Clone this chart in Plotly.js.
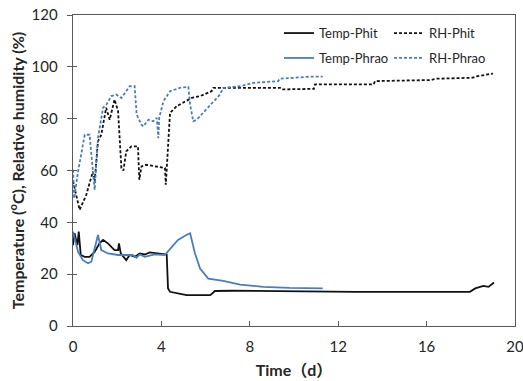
<!DOCTYPE html>
<html>
<head>
<meta charset="utf-8">
<script src="https://cdn.plot.ly/plotly-3.0.1.min.js"></script>
<style>html,body{margin:0;padding:0;background:#fff;}#chart{width:523px;height:381px;}</style>
</head>
<body>
<div id="chart"></div>
<script>
// Temp-Phit (black solid)
const tempPhitDay = [0,0.07,0.2,0.26,0.35,0.53,0.75,0.83,0.98,1.2,1.36,1.58,1.88,2.04,2.08,2.16,2.41,2.56,2.8,3.02,3.25,3.47,4.15,4.24,4.3,4.39,5.14,6.2,6.27,6.42,7.25,8.3,9.8,12.8,17.96,18.2,18.57,18.8,19.05];
const tempPhitVal = [31.2,35.8,31.2,36.4,27.4,26.7,26.7,27.4,28.6,31.9,33.2,31.9,29.3,29.3,31.9,28,25.4,27.4,26.7,28,27.6,28.4,27.6,27.6,14.5,13.2,11.9,11.9,12.3,13.5,13.6,13.5,13.4,13.2,13.2,14.5,15.5,15.1,16.8];

// Temp-Phrao (blue solid)
const tempPhraoDay = [0,0.07,0.23,0.45,0.68,0.83,0.98,1.13,1.28,1.58,2.04,2.7,2.87,3.02,3.25,3.7,4.15,4.75,5.13,5.3,5.52,5.75,6.12,6.8,7.56,8.6,9.8,11.3];
const tempPhraoVal = [36.4,33.8,28.6,25.4,24.2,24.8,30,35.1,29.3,28,27.4,27.4,26.3,27.6,26.7,27.6,27.4,33.2,35.1,35.8,28,22.2,18.3,17.4,16,15.1,14.7,14.5];

// RH-Phit (black dashed)
const rhPhitDay = [0,0.15,0.3,0.6,0.9,0.98,1.13,1.28,1.5,1.66,1.88,2.04,2.19,2.28,2.41,2.64,2.94,3.0,3.1,3.3,4.16,4.2,4.25,4.39,4.69,5.07,5.37,5.75,6.27,6.35,9.37,9.45,10.9,10.95,13.6,13.67,16.2,16.4,18.1,18.3,19.0];
const rhPhitVal = [56,50,44.8,50.6,59.6,55.8,71.2,73.8,84.2,79.6,87.4,82.9,60.9,60,67.4,69.3,69.3,56.4,61.6,62.2,61,54.5,62,82.2,84.8,86.7,88,88.7,90.6,91.9,91.9,91.3,91.5,93.2,93.2,94.5,94.9,95.4,95.8,96.4,97.4];

// RH-Phrao (blue dashed)
const rhPhraoDay = [0,0.05,0.23,0.53,0.75,0.83,0.98,1.13,1.36,1.51,1.73,1.96,2.19,2.56,2.79,2.88,3.1,3.18,3.41,3.63,3.79,3.86,3.9,4.09,4.39,4.84,5.22,5.3,5.44,5.6,6.35,6.65,6.8,7.56,8.16,9.29,9.35,10.7,11.3];
const rhPhraoVal = [60.3,49.3,59.6,73.8,73.8,66,52.5,72.5,84.2,85.4,88.7,89.3,88,92.5,92.5,81.6,77.7,77,79.6,79,80.3,72.5,80.3,86.7,90.6,91.9,92.3,85.4,79,79.6,86.5,89.3,91.9,92.5,93.8,94.5,95.4,96.2,96.2];

const blue = '#4a7ebb';
const black = '#111111';
const dash = '3px,2px';

const traces = [
  {x: tempPhitDay, y: tempPhitVal, name: 'Temp-Phit', mode: 'lines', line: {color: black, width: 1.8}, legend: 'legend', legendgroup: 'a'},
  {x: tempPhraoDay, y: tempPhraoVal, name: 'Temp-Phrao', mode: 'lines', line: {color: blue, width: 1.8}, legend: 'legend', legendgroup: 'b'},
  {x: rhPhitDay, y: rhPhitVal, name: 'RH-Phit', mode: 'lines', line: {color: black, width: 1.8, dash: dash}, legend: 'legend2', legendgroup: 'c'},
  {x: rhPhraoDay, y: rhPhraoVal, name: 'RH-Phrao', mode: 'lines', line: {color: blue, width: 1.8, dash: dash}, legend: 'legend2', legendgroup: 'd'}
];

const axisColor = '#5a5a5a';
const tickFont = {family: 'Lato, sans-serif', size: 15, color: '#262626'};
const legFont = {family: 'Lato, sans-serif', size: 13, color: '#262626'};
const titleFont = {family: 'Lato, "Noto Sans CJK SC", sans-serif', size: 16, color: '#262626'};

const layout = {
  width: 523, height: 381,
  margin: {l: 73, r: 8, t: 15, b: 55},
  paper_bgcolor: '#ffffff', plot_bgcolor: '#ffffff',
  showlegend: true,
  xaxis: {
    range: [0, 20], dtick: 4, tick0: 0,
    ticks: 'inside', ticklen: 5, tickcolor: axisColor, tickwidth: 1,
    showline: true, linecolor: axisColor, linewidth: 1.3, mirror: true,
    showgrid: false, zeroline: false, ticklabeloverflow: 'allow',
    tickfont: tickFont, automargin: false, ticklabelstandoff: 7,
    title: {text: '<b>Time（d）</b>', font: titleFont, standoff: 10}
  },
  yaxis: {
    range: [0, 120], dtick: 20, tick0: 0,
    ticks: 'outside', ticklen: 5, tickcolor: axisColor, tickwidth: 1,
    showline: true, linecolor: axisColor, linewidth: 1.3, mirror: true,
    showgrid: false, zeroline: false,
    tickfont: tickFont, automargin: false, ticklabelstandoff: 6,
    title: {text: '<b>Temperature (<sup>o</sup>C), Relative humidity (%)</b>', font: titleFont, standoff: 3}
  },
  yaxis2: {
    overlaying: 'y', side: 'left', range: [0, 120], dtick: 20, tick0: 0,
    ticks: 'inside', ticklen: 4, tickcolor: axisColor, tickwidth: 1,
    showticklabels: false, showline: false, showgrid: false, zeroline: false
  },
  legend: {
    x: 0.466, y: 0.99, xanchor: 'left', yanchor: 'top',
    bgcolor: 'rgba(0,0,0,0)', borderwidth: 0, font: legFont,
    traceorder: 'grouped', tracegroupgap: 5
  },
  legend2: {
    x: 0.715, y: 0.99, xanchor: 'left', yanchor: 'top',
    bgcolor: 'rgba(0,0,0,0)', borderwidth: 0, font: legFont,
    traceorder: 'grouped', tracegroupgap: 5
  }
};

// invisible helper trace so the inner (cross) tick marks of yaxis2 are drawn
traces.push({x: [0], y: [0], yaxis: 'y2', mode: 'markers', marker: {opacity: 0}, showlegend: false, hoverinfo: 'skip'});

Plotly.newPlot('chart', traces, layout, {displayModeBar: false, staticPlot: true});
</script>
</body>
</html>
